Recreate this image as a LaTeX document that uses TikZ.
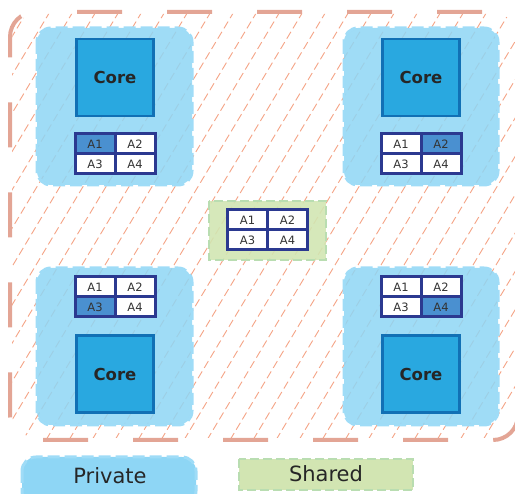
\documentclass[tikz,border=0pt]{standalone}
\usepackage{fontspec}
\setmainfont{DejaVu Sans}
\usetikzlibrary{calc}
\definecolor{salmon}{HTML}{E3A595}
\definecolor{hatchred}{HTML}{F4A385}
\definecolor{privblue}{HTML}{8ED6F5}
\definecolor{privedge}{HTML}{9FDCF7}
\definecolor{coreblue}{HTML}{29A8E0}
\definecolor{coreedge}{HTML}{1170B5}
\definecolor{navy}{HTML}{2B3990}
\definecolor{hitblue}{HTML}{4A90D0}
\definecolor{sharedgreen}{HTML}{D2E5B2}
\definecolor{sharededge}{HTML}{B9DDB1}
\tikzset{
	private/.style={fill=privblue, draw=privedge, line width=3pt, dash pattern=on 12pt off 5pt, rounded corners=14pt},
	shared/.style={fill=sharedgreen, draw=sharededge, line width=2.5pt, dash pattern=on 9pt off 4pt},
	corebox/.style={fill=coreblue, draw=coreedge, line width=2.5pt, minimum width=77pt, minimum height=77pt, inner sep=0pt, font=\bfseries\fontsize{16.5}{18}\selectfont, text=black!85},
	cell/.style={fill=white, draw=navy, line width=3pt, minimum width=40pt, minimum height=20pt, inner sep=0pt, font=\fontsize{11.5}{13}\selectfont, text=black!80},
	hit/.style={fill=hitblue},
	hatch/.style={draw=hatchred, line width=0.9pt, dash pattern=on 8pt off 4pt},
	outer/.style={draw=salmon, line width=4pt, dash pattern=on 45pt off 45pt, rounded corners=25pt},
}
% cache block: name, centre, then one style per cell
\def\cacheblock(#1)(#2)#3#4#5#6{
	\node[cell,#3] (#1a1) at ($(#2)+(-20,-10)$) {A1};
	\node[cell,#4] (#1a2) at ($(#2)+(20,-10)$) {A2};
	\node[cell,#5] (#1a3) at ($(#2)+(-20,10)$) {A3};
	\node[cell,#6] (#1a4) at ($(#2)+(20,10)$) {A4};
}

\begin{document}
\begin{tikzpicture}[x=1pt, y=-1pt]
			%%%%% START %%%%%
			\useasboundingbox (0,0) rectangle (515,494);
			
			% hatched chip area
			\begin{scope}
				\clip[rounded corners=25pt] (12,14) rectangle (520,438);
				\foreach \i in {-12,...,23}
					\draw[hatch] (\i*23, 440) -- ++(258,-430);
			\end{scope}
			\draw[outer] (77,12) -- (518,12) -- (518,60);
			\draw[outer] (518,409) -- (518,440) -- (10,440) -- (10,12) -- (40,12);
			
			% private regions
			\draw[private, fill opacity=0.85] (37,28) rectangle (192,185);
			\draw[private, fill opacity=0.85] (344,28) rectangle (498,185);
			\draw[private, fill opacity=0.85] (37,268) rectangle (192,425);
			\draw[private, fill opacity=0.85] (344,268) rectangle (498,425);
			
			% shared region
			\draw[shared, fill opacity=0.9] (209,201) rectangle (326,260);
			
			% cores
			\node[corebox] (coreTL) at (115,77.5) {Core};
			\node[corebox] (coreTR) at (421,77.5) {Core};
			\node[corebox] (coreBL) at (115,374) {Core};
			\node[corebox] (coreBR) at (421,374) {Core};
			
			% caches
			\cacheblock(tl)(115,154){hit}{}{}{}
			\cacheblock(tr)(421,154){}{hit}{}{}
			\cacheblock(bl)(115,297){}{}{hit}{}
			\cacheblock(br)(421,297){}{}{}{hit}
			\cacheblock(sh)(267.5,230){}{}{}{}
			
			% legend
			\draw[private] (22,457) rectangle (196,505);
			\node[font=\fontsize{21}{24}\selectfont, text=black!85] (privlabel) at (110,476) {Private};
			\draw[shared] (239,459) rectangle (413,490);
			\node[font=\fontsize{21}{24}\selectfont, text=black!85] (sharedlabel) at (326,473.5) {Shared};
			
			%%%%% END %%%%%
		\end{tikzpicture}
\end{document}
